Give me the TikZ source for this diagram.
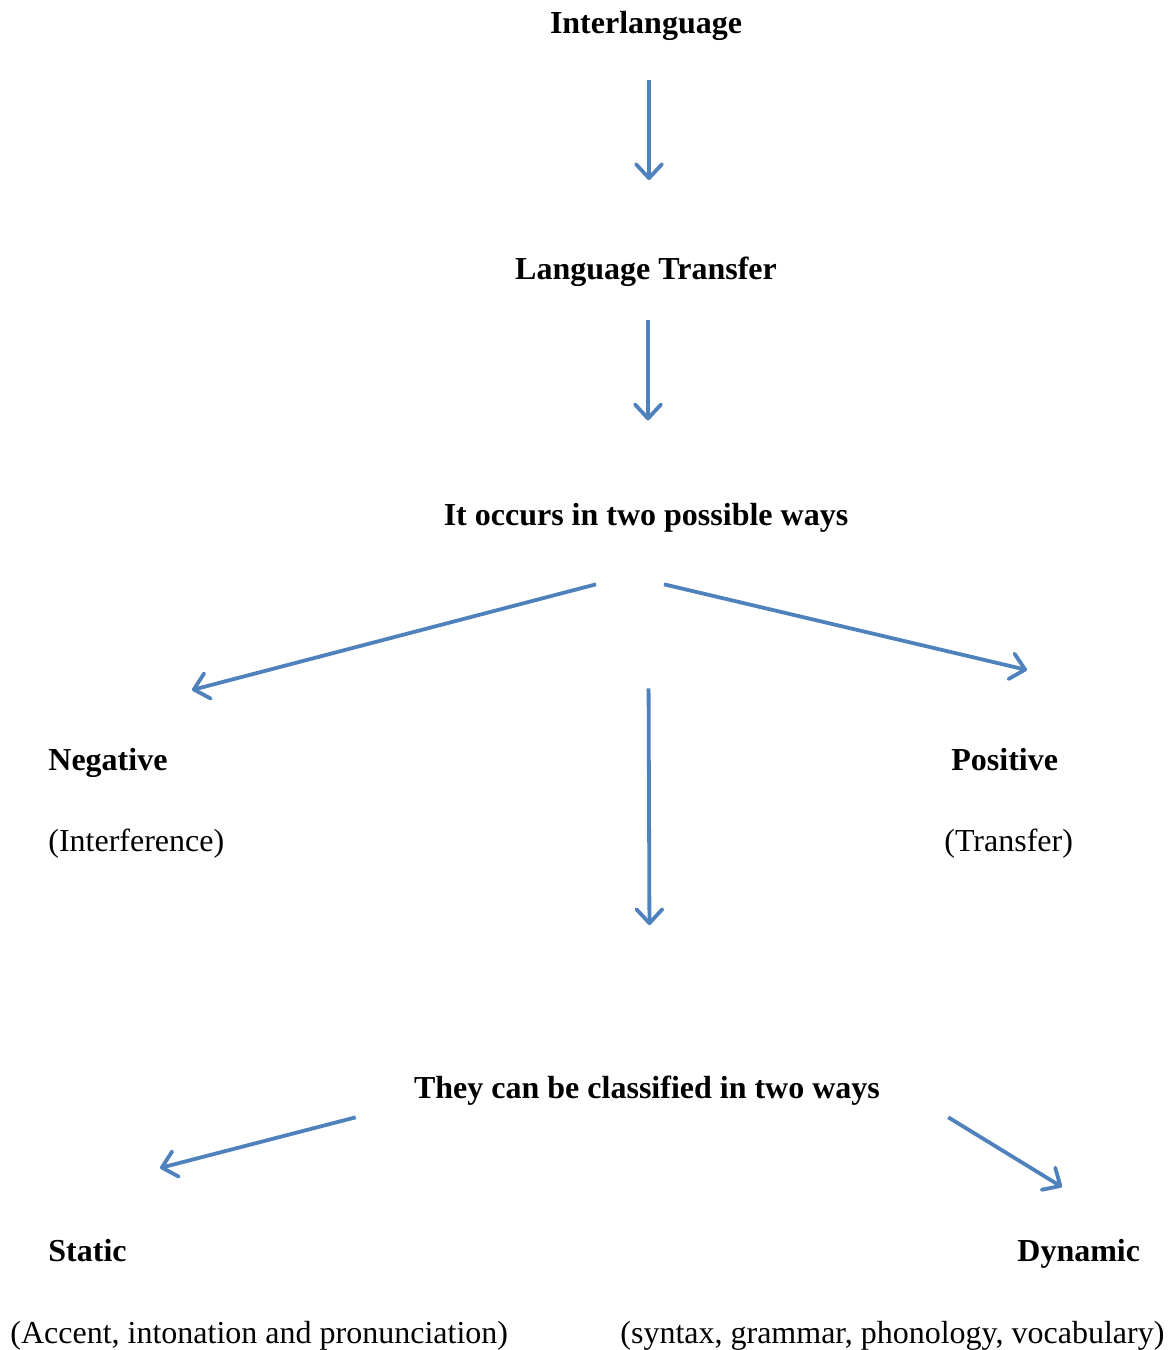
\documentclass[tikz,border=0pt]{standalone}
\usepackage{fontspec}
\setmainfont{Liberation Serif}
\usetikzlibrary{arrows.meta}
\definecolor{arrowblue}{HTML}{4F81BD}
\tikzset{
  head/.style={font=\fontsize{16}{19}\selectfont\bfseries, inner sep=0pt, anchor=base},
  sidehead/.style={font=\fontsize{16}{19}\selectfont\bfseries, inner sep=0pt, anchor=base west},
  note/.style={font=\fontsize{16}{19}\selectfont, inner sep=0pt, anchor=base west},
  flow/.style={draw=arrowblue, line width=1.9pt, -{Straight Barb[length=7pt,width=13pt,round]}},
}
\begin{document}
\begin{tikzpicture}[x=0.5pt,y=-0.5pt]
		\useasboundingbox (0,0) rectangle (1173,1350);
		% main chain
		\node[head] (inter) at (646,33) {Interlanguage};
		\node[head] (lang) at (646,279) {Language Transfer};
		\node[head] (occurs) at (646,525) {It occurs in two possible ways};
		\node[head] (classed) at (647,1098) {They can be classified in two ways};
		% two ways
		\node[sidehead] (neg) at (48,770) {Negative};
		\node[note] (negnote) at (48,851) {(Interference)};
		\node[sidehead] (pos) at (951,770) {Positive};
		\node[note] (posnote) at (944,851) {(Transfer)};
		\node[sidehead] (static) at (48,1261) {Static};
		\node[note] (staticnote) at (10,1343) {(Accent, intonation and pronunciation)};
		\node[sidehead] (dynamic) at (1017,1261) {Dynamic};
		\node[note] (dynamicnote) at (620,1343) {(syntax, grammar, phonology, vocabulary)};
		% arrow tips
		\coordinate (negtip) at (192,690);
		\coordinate (postip) at (1027,670);
		\coordinate (statictip) at (160,1168);
		\coordinate (dynamictip) at (1062,1187);
		\draw[flow, shorten <=20pt, shorten >=38pt] ([xshift=1.5pt]inter.south) -- ([xshift=1.5pt]lang.north);
		\draw[flow, shorten <=17pt, shorten >=41pt] ([xshift=1pt]lang.south) -- ([xshift=1pt]occurs.north);
		\draw[flow, shorten <=78pt, shorten >=75pt] ([xshift=1pt]occurs.south) -- ([xshift=1.5pt]classed.north);
		\draw[flow] ([shift={(-50,52)}]occurs.south) -- (negtip);
		\draw[flow] ([shift={(18,52)}]occurs.south) -- (postip);
		\draw[flow] ([shift={(-58,12)}]classed.south west) -- (statictip);
		\draw[flow] ([shift={(68,12)}]classed.south east) -- (dynamictip);
	\end{tikzpicture}
\end{document}
